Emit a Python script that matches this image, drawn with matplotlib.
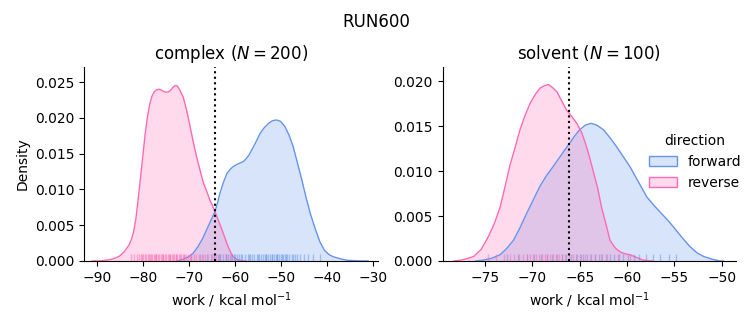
import matplotlib
matplotlib.use("Agg")
import matplotlib.pyplot as plt
from matplotlib.patches import Patch
from matplotlib.colors import to_rgba

# ---- data ----
directions = ["forward", "reverse"]
colors = {"forward": "#6495ED", "reverse": "#FF69B4"}

# complex leg: density curves (work, density)
cx_fwd_x = [-72.5, -71.0, -70.0, -69.0, -68.0, -67.0, -66.0, -65.0, -64.3, -63.7, -63.2, -62.5,
            -61.7, -61.0, -60.3, -59.5, -58.8, -58.1, -57.5, -56.9, -56.3, -55.4, -54.5, -53.6,
            -52.7, -51.8, -50.9, -50.0, -49.1, -48.2, -47.3, -46.4, -45.4, -44.5, -43.6, -42.5,
            -41.5, -40.5, -39.5, -38.6, -37.0, -35.5, -33.0, -31.0]
cx_fwd_y = [0.0, 0.0003, 0.0006, 0.0011, 0.0020, 0.0031, 0.0045, 0.0059, 0.0069, 0.0082, 0.0095, 0.0109,
            0.0122, 0.0128, 0.0132, 0.0135, 0.0137, 0.0139, 0.0143, 0.0148, 0.0155, 0.0166, 0.0178, 0.0186,
            0.0192, 0.0196, 0.0197, 0.0195, 0.0188, 0.0176, 0.0160, 0.0138, 0.0113, 0.0089, 0.0067, 0.0045,
            0.0027, 0.0015, 0.0009, 0.0006, 0.0003, 0.0001, 0.00002, 0.0]
cx_rev_x = [-91.0, -89.0, -87.0, -86.0, -85.0, -84.0, -83.0, -82.4, -82.0, -81.5, -81.0, -80.5,
            -80.0, -79.5, -79.0, -78.5, -78.0, -77.5, -77.0, -76.5, -76.0, -75.5, -75.0, -74.5,
            -74.0, -73.5, -73.0, -72.6, -72.2, -71.8, -71.2, -70.5, -69.7, -69.0, -68.3, -67.5,
            -66.8, -66.0, -65.4, -64.8, -64.3, -63.5, -62.5, -61.5, -60.8, -60.3, -59.5, -58.5, -57.5]
cx_rev_y = [0.0, 0.00003, 0.0002, 0.0004, 0.0007, 0.0013, 0.0022, 0.0031, 0.0040, 0.0058, 0.0085, 0.0115,
            0.0145, 0.0175, 0.0200, 0.0218, 0.0230, 0.0236, 0.0239, 0.0240, 0.0239, 0.0237, 0.0236, 0.0236,
            0.0238, 0.0242, 0.0245, 0.0245, 0.0242, 0.0237, 0.0229, 0.0212, 0.0188, 0.0166, 0.0146, 0.0126,
            0.0109, 0.0096, 0.0085, 0.0077, 0.0069, 0.0056, 0.0039, 0.0021, 0.0011, 0.0006, 0.0002, 0.00005, 0.0]
cx_rug_fwd = [-67.5, -66.0, -65.1, -64.4, -63.7, -63.1, -62.5, -62.0, -61.5, -61.0, -60.5, -60.0,
              -59.5, -59.0, -58.4, -57.8, -57.2, -56.7, -56.2, -55.7, -55.2, -54.7, -54.3, -53.9,
              -53.5, -53.1, -52.7, -52.3, -51.9, -51.5, -51.1, -50.7, -50.3, -49.9, -49.5, -49.1,
              -48.6, -48.1, -47.6, -47.0, -46.4, -45.7, -44.9, -44.0, -43.0, -41.5,
              -63.4, -61.8, -60.2, -58.7, -57.0, -55.0, -53.3, -52.0, -50.9, -49.7, -48.8, -47.3]
cx_rug_rev = [-82.6, -81.9, -81.2, -80.8, -80.3, -79.9, -79.6, -79.2, -78.9, -78.5, -78.2, -77.9,
              -77.6, -77.3, -77.0, -76.7, -76.4, -76.1, -75.8, -75.5, -75.2, -74.9, -74.6, -74.3,
              -74.0, -73.7, -73.4, -73.1, -72.8, -72.5, -72.2, -71.9, -71.6, -71.3, -71.0, -70.6,
              -70.2, -69.8, -69.4, -68.9, -68.4, -67.8, -67.2, -66.5, -65.8, -65.0, -64.1, -63.2,
              -62.0, -60.8, -80.1, -78.7, -77.1, -75.6, -74.1, -72.7, -71.1, -69.6, -66.9, -64.6]
cx_mark = -64.3

# solvent leg
sv_fwd_x = [-76.0, -75.2, -74.3, -73.4, -72.7, -72.0, -71.3, -70.6, -69.9, -69.2, -68.5, -67.8,
            -67.0, -66.2, -65.6, -65.0, -64.4, -63.8, -63.2, -62.5, -61.8, -61.1, -60.4, -59.7,
            -58.8, -57.9, -57.0, -56.2, -55.5, -54.8, -54.1, -53.35, -52.6, -51.9, -51.0, -50.2, -49.8]
sv_fwd_y = [0.0, 0.0001, 0.0003, 0.0007, 0.0014, 0.0023, 0.0037, 0.0053, 0.0068, 0.0083, 0.0095, 0.0105,
            0.0117, 0.0129, 0.0138, 0.0146, 0.0151, 0.0153, 0.0151, 0.0146, 0.0137, 0.0127, 0.0116, 0.0105,
            0.0088, 0.0071, 0.0060, 0.0051, 0.0043, 0.0034, 0.0025, 0.0016, 0.0009, 0.0005, 0.0002, 0.0, 0.0]
sv_rev_x = [-78.3, -77.5, -76.8, -76.2, -75.4, -74.65, -74.0, -73.4, -72.9, -72.4, -71.8, -71.3,
            -70.8, -70.25, -69.7, -69.2, -68.7, -68.3, -67.9, -67.4, -66.9, -66.4, -65.8, -65.3,
            -64.8, -64.4, -64.0, -63.6, -63.1, -62.7, -62.2, -61.8, -61.2, -60.7, -60.2, -59.7,
            -59.0, -58.3, -57.3]
sv_rev_y = [0.0, 0.0001, 0.0003, 0.0005, 0.0013, 0.0027, 0.0042, 0.0060, 0.0082, 0.0105, 0.0127, 0.0146,
            0.0161, 0.0175, 0.0185, 0.0192, 0.0195, 0.0196, 0.0193, 0.0188, 0.0178, 0.0168, 0.0160, 0.0153,
            0.0143, 0.0131, 0.0117, 0.0101, 0.0081, 0.0060, 0.0040, 0.0023, 0.0014, 0.0010, 0.0008, 0.0007,
            0.0004, 0.0001, 0.0]
sv_rug_fwd = [-72.7, -71.5, -70.6, -69.8, -69.1, -68.5, -67.9, -67.4, -66.9, -66.4, -65.9, -65.4,
              -65.0, -64.6, -64.2, -63.8, -63.4, -63.0, -62.6, -62.2, -61.8, -61.4, -60.9, -60.4,
              -59.9, -59.3, -58.7, -58.0, -57.3, -56.5, -55.6, -54.8]
sv_rug_rev = [-74.7, -73.8, -73.0, -72.4, -71.9, -71.4, -71.0, -70.6, -70.2, -69.9, -69.6, -69.3,
              -69.0, -68.7, -68.4, -68.1, -67.8, -67.5, -67.2, -66.9, -66.5, -66.1, -65.7, -65.3,
              -64.9, -64.4, -63.9, -63.4, -62.8, -62.1, -61.0, -59.7]
sv_mark = -66.1

panels = [
    dict(title=r"complex ($N = 200$)",
         curves={"forward": (cx_fwd_x, cx_fwd_y), "reverse": (cx_rev_x, cx_rev_y)},
         rugs={"forward": cx_rug_fwd, "reverse": cx_rug_rev},
         mark=cx_mark, xlim=(-92.76, -28.85), ylim=(0, 0.0271),
         xticks=[-90, -80, -70, -60, -50, -40, -30],
         yticks=[0.0, 0.005, 0.010, 0.015, 0.020, 0.025]),
    dict(title=r"solvent ($N = 100$)",
         curves={"forward": (sv_fwd_x, sv_fwd_y), "reverse": (sv_rev_x, sv_rev_y)},
         rugs={"forward": sv_rug_fwd, "reverse": sv_rug_rev},
         mark=sv_mark, xlim=(-79.47, -48.52), ylim=(0, 0.02156),
         xticks=[-75, -70, -65, -60, -55, -50],
         yticks=[0.0, 0.005, 0.010, 0.015, 0.020]),
]

fig = plt.figure(figsize=(7.53, 3.25), dpi=100)
W, H = 753, 325
axes = [fig.add_axes([84 / W, 1 - 261 / H, (378 - 84) / W, (261 - 67) / H]),
        fig.add_axes([442.7 / W, 1 - 261 / H, (735.7 - 442.7) / W, (261 - 67) / H])]

for ax, p in zip(axes, panels):
    for d in directions:
        x, y = p["curves"][d]
        ax.fill_between(x, y, 0, color=colors[d], alpha=0.25, linewidth=0)
        ax.plot(x, y, color=colors[d], lw=1.0)
    for d in directions:
        ax.vlines(p["rugs"][d], 0, 0.035, transform=ax.get_xaxis_transform(),
                  color=colors[d], alpha=0.5, lw=1.0)
    ax.axvline(p["mark"], color="black", ls=":", lw=1.5)
    ax.set_xlim(*p["xlim"])
    ax.set_ylim(*p["ylim"])
    ax.set_xticks(p["xticks"])
    ax.set_yticks(p["yticks"])
    ax.set_title(p["title"], fontsize=12)
    ax.set_xlabel(r"work / kcal mol$^{-1}$")
    ax.spines["top"].set_visible(False)
    ax.spines["right"].set_visible(False)

axes[0].set_ylabel("Density")

handles = [Patch(facecolor=to_rgba(colors[d], 0.25), edgecolor=colors[d]) for d in directions]
fig.legend(handles, directions, title="direction", frameon=False,
           loc="center", bbox_to_anchor=(695 / W, 1 - 162 / H), fontsize=10, title_fontsize=10)

fig.suptitle("RUN600", fontsize=12, y=1 - 13 / H)
fig.savefig("out.png", dpi=100)
